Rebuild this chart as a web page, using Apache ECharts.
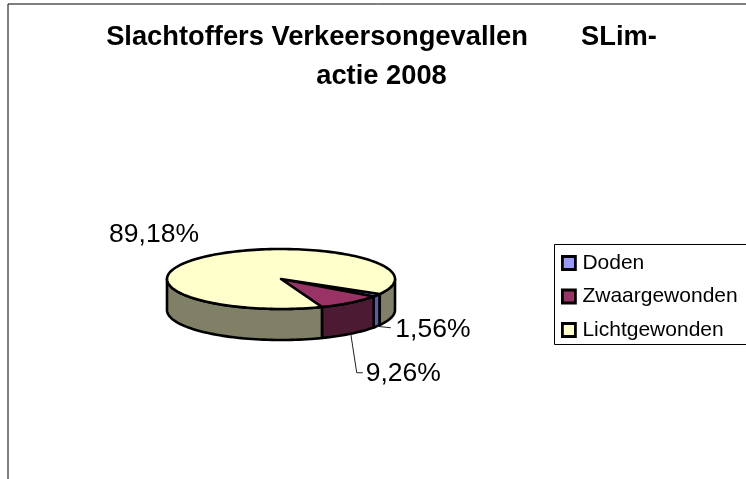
<!DOCTYPE html>
<html><head><meta charset="utf-8">
<script src="https://cdn.jsdelivr.net/npm/echarts@6/dist/echarts.min.js"></script>
<style>html,body{margin:0;padding:0;background:#fff}#c{width:746px;height:479px}</style>
</head><body><div id="c"></div>
<script>
const titleLines = ['Slachtoffers Verkeersongevallen       SLim-', 'actie 2008'];
const categories = ['Doden', 'Zwaargewonden', 'Lichtgewonden'];
const percentages = [1.56, 9.26, 89.18];
const percentLabels = ['1,56%', '9,26%', '89,18%'];
const topColors = ['#9999FF', '#993366', '#FFFFCC'];
const wallColors = ['#5C5C99', '#4D1A33', '#808066'];

const FONT = '"Liberation Sans", Arial, sans-serif';
const geo = {cx: 281, cy: 279, rx: 114, ry: 30, depth: 31, startDeg: 30};
const total = percentages.reduce((a, b) => a + b, 0);
let acc = geo.startDeg;
const ranges = percentages.map(v => { const a = acc; acc += v / total * 360; return [a, acc]; });
const pt = (deg, dy) => {
  const r = deg * Math.PI / 180;
  return [geo.cx + geo.rx * Math.cos(r), geo.cy + geo.ry * Math.sin(r) + (dy || 0)];
};
const arc = (a, b, dy) => {
  const out = [];
  const n = Math.max(2, Math.ceil((b - a) / 2));
  for (let i = 0; i <= n; i++) out.push(pt(a + (b - a) * i / n, dy));
  return out;
};
const line = {stroke: '#000', lineWidth: 2.6, lineJoin: 'round'};
const labelLayout = [
  {elbow: [[14, 1.5]], text: [18.5, 3.5], align: 'left'},
  {elbow: [[6, 39], [12, 39]], text: [15, 39.5], align: 'left'},
  {text: null}
];
function renderSlice(idx) {
  return function () {
    const [a, b] = ranges[idx];
    const kids = [];
    const walls = [[Math.max(a, 0), Math.min(b, 180)], [Math.max(a, 360), Math.min(b, 540)]];
    walls.forEach(([s, e]) => {
      if (e <= s) return;
      const pts = arc(s, e, 0).concat(arc(s, e, geo.depth).reverse());
      kids.push({type: 'polygon', shape: {points: pts}, style: Object.assign({fill: wallColors[idx]}, line)});
    });
    kids.push({type: 'polygon', shape: {points: [[geo.cx, geo.cy]].concat(arc(a, b, 0))},
      style: Object.assign({fill: topColors[idx]}, line)});
    const mid = (a + b) / 2;
    const L = labelLayout[idx];
    if (L.text) {
      const p0 = pt(mid, geo.depth);
      const pts = [p0].concat(L.elbow.map(d => [p0[0] + d[0], p0[1] + d[1]]));
      kids.push({type: 'polyline', shape: {points: pts}, style: {stroke: '#222', lineWidth: 1, fill: null}});
      kids.push({type: 'text', style: {x: p0[0] + L.text[0], y: p0[1] + L.text[1], text: percentLabels[idx],
        font: '26.5px ' + FONT, fill: '#000', align: 'left', verticalAlign: 'middle'}});
    } else {
      kids.push({type: 'text', style: {x: geo.cx - 127, y: geo.cy - 44, text: percentLabels[idx],
        font: '26.5px ' + FONT, fill: '#000', align: 'center', verticalAlign: 'middle'}});
    }
    return {type: 'group', children: kids};
  };
}
const chart = echarts.init(document.getElementById('c'), null, {renderer: 'canvas'});
chart.setOption({
  animation: false,
  backgroundColor: '#fff',
  title: {text: titleLines.join('\n'), left: 381.5, top: 17.5, padding: 0, textAlign: 'center',
    textStyle: {fontFamily: FONT, fontSize: 27.3, fontWeight: 'bold', color: '#000', lineHeight: 39}},
  legend: {orient: 'vertical', left: 553, top: 245, padding: [6, 0, 0, 8], itemWidth: 13, itemHeight: 13, itemGap: 9.5,
    data: categories, icon: 'rect', selectedMode: false,
    textStyle: {fontFamily: FONT, fontSize: 21, color: '#000', padding: [0, 0, 0, 2], height: 24, lineHeight: 24},
    itemStyle: {borderColor: '#000', borderWidth: 2.8}},
  graphic: [
    {type: 'rect', z: -1, shape: {x: 8, y: 4, width: 800, height: 600}, style: {fill: '#fff', stroke: '#000', lineWidth: 1}},
    {type: 'rect', z: 0, shape: {x: 554.5, y: 244.5, width: 300, height: 100}, style: {fill: '#fff', stroke: '#000', lineWidth: 1}}
  ],
  series: categories.map((name, i) => ({
    type: 'custom', name, coordinateSystem: 'none', silent: true, clip: false,
    itemStyle: {color: topColors[i]},
    renderItem: renderSlice(i),
    data: [percentages[i]]
  }))
});
</script></body></html>
